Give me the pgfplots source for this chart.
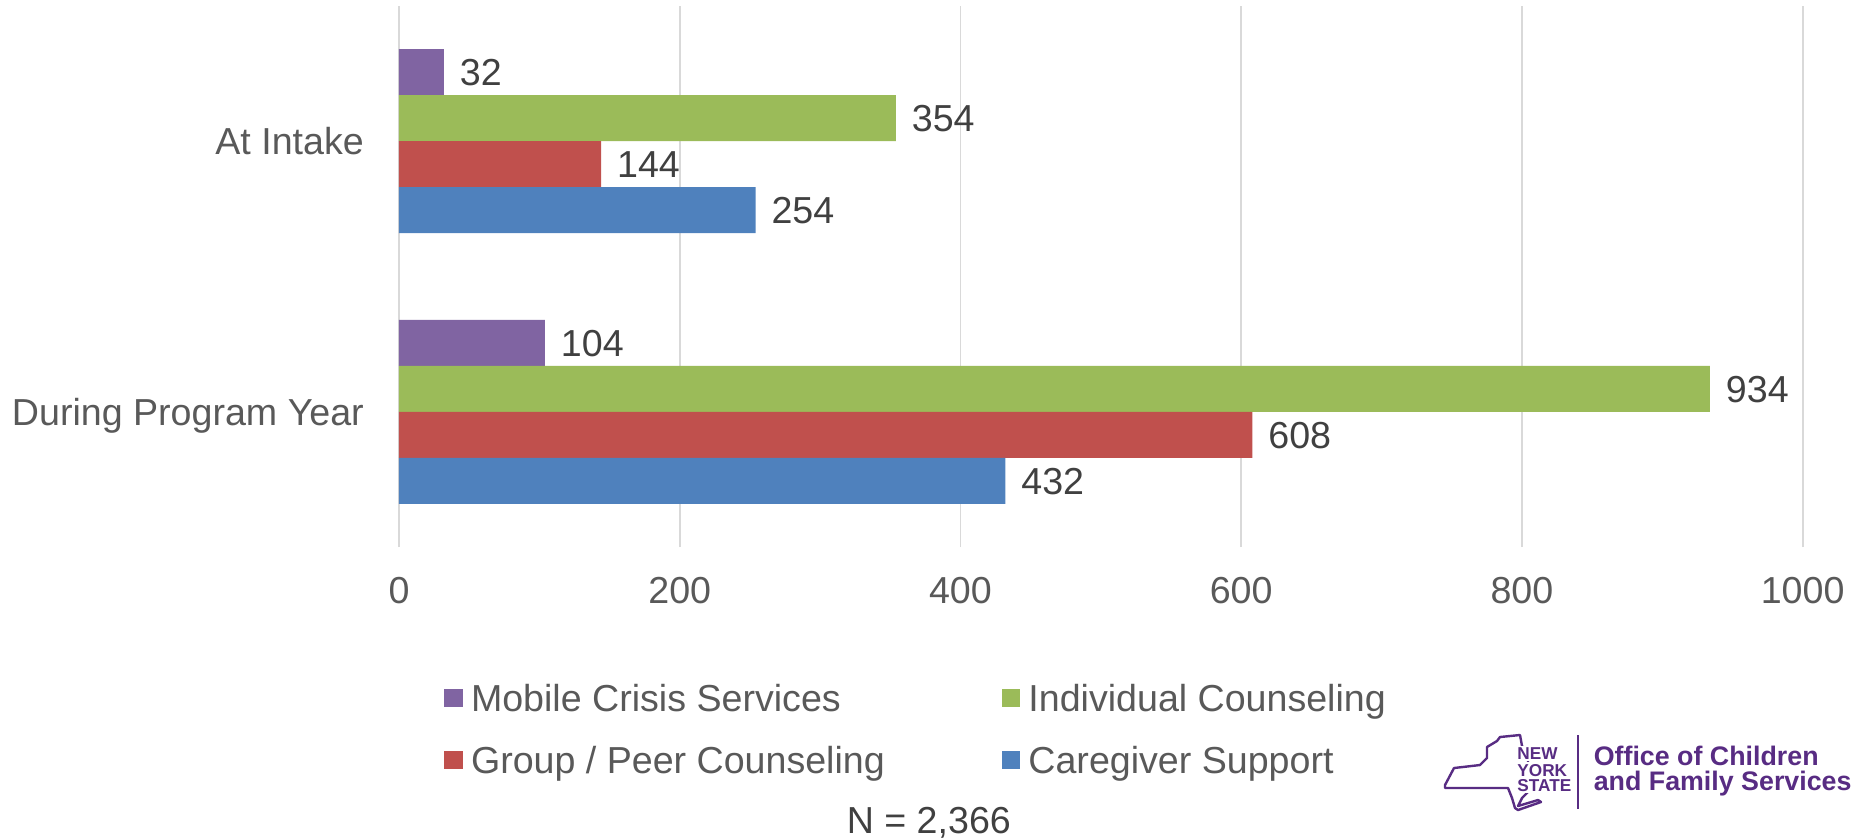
\documentclass[border=0pt]{standalone}
\usepackage{fontspec}
\setmainfont{Liberation Sans}
\usepackage{pgfplots}
\pgfplotsset{compat=1.18}

\definecolor{cPurple}{HTML}{8064A2}
\definecolor{cGreen}{HTML}{9BBB59}
\definecolor{cRed}{HTML}{C0504D}
\definecolor{cBlue}{HTML}{4F81BD}
\definecolor{txt}{HTML}{595959}
\definecolor{lbl}{HTML}{404040}
\definecolor{gridc}{HTML}{D9D9D9}
\definecolor{ocfs}{RGB}{88,44,131}

\newcommand{\chartfont}{\fontsize{9.4}{11}\selectfont}

\begin{document}
\begin{tikzpicture}
\useasboundingbox (0,0) rectangle (465.5pt,-209.75pt);

\begin{axis}[
    at={(99.75pt,-136.8pt)}, anchor=south west,
    scale only axis,
    width=350.9pt, height=135.4pt,
    xbar, bar width=11.5pt,
    xmin=0, xmax=1000, ymin=-0.5, ymax=1.5,
    xtick={0,200,...,1000},
    ytick={0,1},
    yticklabels={During Program Year, At Intake},
    xmajorgrids,
    grid style={gridc, line width=0.45pt},
    axis line style={draw=none},
    major tick length=0pt,
    tick label style={font=\chartfont, text=txt},
    /pgf/number format/assume math mode=true,
    /pgf/number format/1000 sep={},
    xticklabel style={anchor=center, yshift=-10.8pt, inner sep=0pt},
    yticklabel style={anchor=east, xshift=-8.6pt, inner sep=0pt,
        text height=6.7pt, text depth=0pt},
    nodes near coords,
    nodes near coords style={font=\chartfont, text=lbl, anchor=west,
        inner sep=0pt, xshift=3.8pt, text height=6.7pt, text depth=0pt},
    legend columns=2,
    legend cell align=left,
    legend image code/.code={\draw[#1, draw=none] (0pt,-2.3pt) rectangle (4.6pt,2.3pt);},
    legend style={at={(axis description cs:0,0)}, anchor=north west,
        xshift=11.1pt, yshift=-34.2pt,
        draw=none, fill=none, inner sep=0pt, font=\chartfont, text=txt,
        row sep=8.7pt,
        nodes={inner sep=0pt, text height=6.7pt, text depth=0pt},
        /tikz/every odd column/.append style={column sep=2.1pt},
        /tikz/every even column/.append style={column sep=29.2pt}},
]
% y = 1 : At Intake, y = 0 : During Program Year
\addplot[fill=cPurple, draw=none, bar shift=17.25pt] coordinates {(32,1) (104,0)};
\addlegendentry{Mobile Crisis Services}
\addplot[fill=cGreen, draw=none, bar shift=5.75pt] coordinates {(354,1) (934,0)};
\addlegendentry{Individual Counseling}
\addplot[fill=cRed, draw=none, bar shift=-5.75pt] coordinates {(144,1) (608,0)};
\addlegendentry{Group / Peer Counseling}
\addplot[fill=cBlue, draw=none, bar shift=-17.25pt] coordinates {(254,1) (432,0)};
\addlegendentry{Caregiver Support}
\end{axis}

\begin{scope}[x=0.25pt, y=-0.25pt]
\node[font=\chartfont, text=lbl, inner sep=0pt, text height=6.7pt, text depth=0pt]
    at (928.8,819.7) {N = 2,366};

% logo
\begin{scope}[shift={(1430,720)}]
\draw[ocfs, line width=0.6pt, line join=round]
    (15,65) -- (24,48) -- (50,45) -- (57,38) -- (57,27) -- (67,21) -- (70,17)
    -- (90,15) -- (92,26) -- (98,32) -- (98,72) -- (92,78) -- (88,86)
    -- (108,80) -- (111,82) -- (88,90) -- (85,88) -- (82,78) -- (78,68)
    -- (15,68) -- cycle;
\begin{scope}[every node/.style={anchor=base west, inner sep=0.4pt, fill=white,
        text=ocfs, font=\fontsize{4.3}{5}\selectfont\bfseries}]
\node at (85,39) {NEW};
\node at (85,56) {YORK};
\node at (85,71) {STATE};
\end{scope}
\draw[ocfs, line width=0.5pt] (148,15) -- (148,89);
\begin{scope}[every node/.style={anchor=base west, inner sep=0pt,
        text=ocfs, font=\fontsize{6.7}{8}\selectfont\bfseries}]
\node at (163,45) {Office of Children};
\node at (163,70) {and Family Services};
\end{scope}
\end{scope}
\end{scope}
\end{tikzpicture}
\end{document}
